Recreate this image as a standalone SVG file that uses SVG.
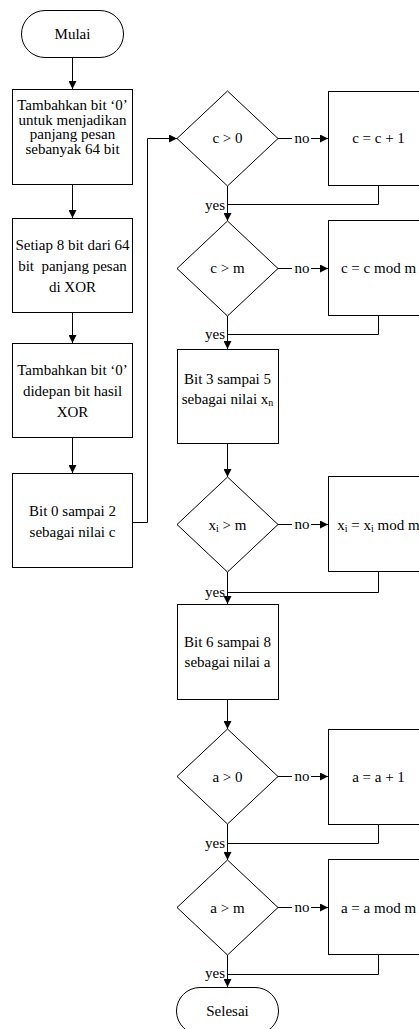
<svg xmlns="http://www.w3.org/2000/svg" width="419" height="1029" viewBox="0 0 419 1029" font-family="'Liberation Serif', serif">
<style>
.s{fill:#fff;stroke:#000;stroke-width:1}
text{font-family:'Liberation Serif',serif;font-size:15px;fill:#000}
.t{text-anchor:middle}
.c{fill:none;stroke:#000;stroke-width:1}
.sub{font-size:10px}
</style>
<defs>
<marker id="ah" markerWidth="9" markerHeight="8" refX="8" refY="4" orient="auto" markerUnits="userSpaceOnUse">
<path d="M0,0 L8,4 L0,8 z" fill="#000"/>
</marker>
</defs>
<g id="connectors">
<path class="c" d="M72.5 58 V89" marker-end="url(#ah)"/>
<path class="c" d="M72.5 185 V218" marker-end="url(#ah)"/>
<path class="c" d="M72.5 313 V343" marker-end="url(#ah)"/>
<path class="c" d="M72.5 438 V473" marker-end="url(#ah)"/>
<path class="c" d="M132.5 522.5 H147.5 V138.5 H177" marker-end="url(#ah)"/>
<path class="c" d="M278 138.5 H292"/><path class="c" d="M311 138.5 H328" marker-end="url(#ah)"/>
<path class="c" d="M227.5 186 V221" marker-end="url(#ah)"/>
<path class="c" d="M378.5 186 V204.5 H227.5"/>
<path class="c" d="M278 268.5 H292"/><path class="c" d="M311 268.5 H328" marker-end="url(#ah)"/>
<path class="c" d="M227.5 316 V349" marker-end="url(#ah)"/>
<path class="c" d="M378.5 316 V334.5 H227.5"/>
<path class="c" d="M227.5 444 V477" marker-end="url(#ah)"/>
<path class="c" d="M278 524.5 H292"/><path class="c" d="M311 524.5 H328" marker-end="url(#ah)"/>
<path class="c" d="M227.5 572 V604" marker-end="url(#ah)"/>
<path class="c" d="M378.5 572 V592.5 H227.5"/>
<path class="c" d="M227.5 700 V729" marker-end="url(#ah)"/>
<path class="c" d="M278 776.5 H292"/><path class="c" d="M311 776.5 H328" marker-end="url(#ah)"/>
<path class="c" d="M227.5 824 V860" marker-end="url(#ah)"/>
<path class="c" d="M378.5 825 V843.5 H227.5"/>
<path class="c" d="M278 907.5 H292"/><path class="c" d="M311 907.5 H328" marker-end="url(#ah)"/>
<path class="c" d="M227.5 955 V987" marker-end="url(#ah)"/>
<path class="c" d="M378.5 955 V974.5 H227.5"/>
<text class="t" x="302" y="143">no</text>
<text class="t" x="302" y="273">no</text>
<text class="t" x="302" y="529">no</text>
<text class="t" x="302" y="781">no</text>
<text class="t" x="302" y="912">no</text>
<text x="225" y="210" text-anchor="end">yes</text>
<text x="225" y="339" text-anchor="end">yes</text>
<text x="225" y="597" text-anchor="end">yes</text>
<text x="225" y="848" text-anchor="end">yes</text>
<text x="225" y="978" text-anchor="end">yes</text>
</g>
<g id="mulai"><rect class="s" x="21.5" y="10.5" width="102" height="47" rx="23.5"/><text class="t" x="72.5" y="39">Mulai</text></g>
<g id="box1"><rect class="s" x="12.5" y="89.5" width="120" height="95"/>
<text class="t" x="72.5" y="110">Tambahkan bit ‘0’</text><text class="t" x="72.5" y="124.5">untuk menjadikan</text><text class="t" x="72.5" y="139">panjang pesan</text><text class="t" x="72.5" y="153.5">sebanyak 64 bit</text></g>
<g id="box2"><rect class="s" x="12.5" y="218.5" width="120" height="94"/>
<text class="t" x="72.5" y="250">Setiap 8 bit dari 64</text><text class="t" x="72.5" y="271" xml:space="preserve">bit  panjang pesan</text><text class="t" x="72.5" y="292">di XOR</text></g>
<g id="box3"><rect class="s" x="12.5" y="343.5" width="120" height="94"/>
<text class="t" x="72.5" y="375">Tambahkan bit ‘0’</text><text class="t" x="72.5" y="396">didepan bit hasil</text><text class="t" x="72.5" y="417">XOR</text></g>
<g id="box4"><rect class="s" x="12.5" y="473.5" width="120" height="94"/>
<text class="t" x="72.5" y="516">Bit 0 sampai 2</text><text class="t" x="72.5" y="537">sebagai nilai c</text></g>
<g id="d1"><polygon class="s" points="227.5,91 278,138.5 227.5,186 177,138.5"/><text class="t" x="227.5" y="143">c &gt; 0</text></g>
<g id="b1"><rect class="s" x="328.5" y="91.5" width="101" height="94"/><text class="t" x="378.5" y="143">c = c + 1</text></g>
<g id="d2"><polygon class="s" points="227.5,221 278,268.5 227.5,316 177,268.5"/><text class="t" x="227.5" y="273">c &gt; m</text></g>
<g id="b2"><rect class="s" x="328.5" y="220.5" width="101" height="95"/><text class="t" x="378.5" y="273">c = c mod m</text></g>
<g id="box5"><rect class="s" x="177.5" y="349.5" width="101" height="94"/>
<text class="t" x="227.5" y="384">Bit 3 sampai 5</text><text class="t" x="227.5" y="404">sebagai nilai x<tspan class="sub" dy="2">n</tspan></text></g>
<g id="d3"><polygon class="s" points="227.5,477 278,524.5 227.5,572 177,524.5"/><text class="t" x="227.5" y="530">x<tspan class="sub" dy="2">i</tspan><tspan dy="-2"> &gt; m</tspan></text></g>
<g id="b3"><rect class="s" x="328.5" y="476.5" width="101" height="95"/><text class="t" x="378.5" y="530">x<tspan class="sub" dy="2">i</tspan><tspan dy="-2"> = x</tspan><tspan class="sub" dy="2">i</tspan><tspan dy="-2"> mod m</tspan></text></g>
<g id="box6"><rect class="s" x="177.5" y="604.5" width="101" height="95"/>
<text class="t" x="227.5" y="647">Bit 6 sampai 8</text><text class="t" x="227.5" y="667">sebagai nilai a</text></g>
<g id="d4"><polygon class="s" points="227.5,729 278,776.5 227.5,824 177,776.5"/><text class="t" x="227.5" y="782">a &gt; 0</text></g>
<g id="b4"><rect class="s" x="328.5" y="729.5" width="101" height="95"/><text class="t" x="378.5" y="782">a = a + 1</text></g>
<g id="d5"><polygon class="s" points="227.5,860 278,907.5 227.5,955 177,907.5"/><text class="t" x="227.5" y="913">a &gt; m</text></g>
<g id="b5"><rect class="s" x="328.5" y="859.5" width="101" height="95"/><text class="t" x="378.5" y="913">a = a mod m</text></g>
<g id="selesai"><rect class="s" x="176.5" y="987.5" width="102" height="47" rx="23.5"/><text class="t" x="227.5" y="1016">Selesai</text></g>
</svg>
